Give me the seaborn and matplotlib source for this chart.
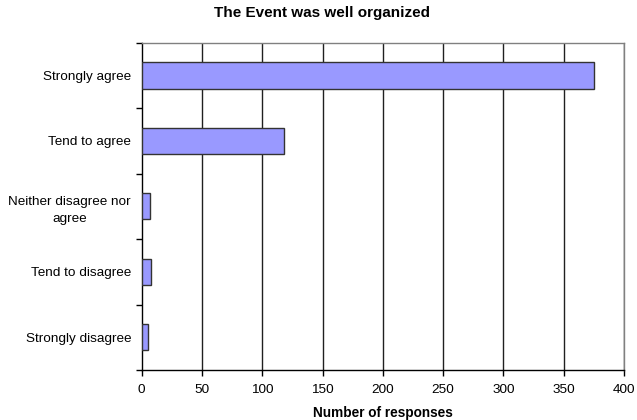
import matplotlib
matplotlib.use("Agg")
import matplotlib.pyplot as plt
import seaborn as sns
import pandas as pd

categories = ["Strongly agree", "Tend to agree", "Neither disagree nor\nagree",
              "Tend to disagree", "Strongly disagree"]
responses = [375, 118, 7, 8, 5]
x_ticks = [0, 50, 100, 150, 200, 250, 300, 350, 400]

sns.set_theme(style="white")
plt.rcParams['font.family'] = ['Liberation Sans', 'DejaVu Sans']
plt.rcParams['text.color'] = 'black'
plt.rcParams['axes.labelcolor'] = 'black'
plt.rcParams['xtick.color'] = 'black'
plt.rcParams['ytick.color'] = 'black'

df = pd.DataFrame({"category": categories, "responses": responses})

W, H = 637, 420
fig = plt.figure(figsize=(W / 100, H / 100), dpi=100)
ax = fig.add_axes([141.7 / W, 1 - 370 / H, (624 - 141.7) / W, (370 - 42.7) / H])

sns.barplot(data=df, x="responses", y="category", orient="h", ax=ax,
            color="#9999ff", saturation=1, width=0.4,
            edgecolor="#333333", linewidth=1.0, zorder=3)

ax.set_xlim(0, 400)
ax.set_ylim(4.5, -0.5)
ax.set_xticks(x_ticks)
ax.set_xticklabels([str(t) for t in x_ticks], fontsize=9.7)
ax.tick_params(axis="x", direction="out", length=4, width=1, color="black",
               pad=6, bottom=True)
# category labels
ax.set_yticks(range(len(categories)))
ax.set_yticklabels(categories, fontsize=9.7, ha="right")
for lab in ax.get_yticklabels():
    lab.set_multialignment("center")
    lab.set_linespacing(1.55)
ax.tick_params(axis="y", length=0, pad=7.7)
# y ticks at category boundaries
ax.set_yticks([b - 0.5 for b in range(len(categories) + 1)], minor=True)
ax.tick_params(axis="y", which="minor", direction="out", length=4, width=1,
               color="black", left=True)

for t in x_ticks[1:]:
    ax.axvline(t, color="#202020", linewidth=1, zorder=1)

for s in ["top", "right"]:
    ax.spines[s].set_color("#808080")
    ax.spines[s].set_linewidth(1)
for s in ["left", "bottom"]:
    ax.spines[s].set_color("black")
    ax.spines[s].set_linewidth(1)

ax.set_ylabel("")
ax.set_xlabel("Number of responses", fontsize=9.8, fontweight="bold", labelpad=7)
fig.text(322 / W, 1 - 13 / H, "The Event was well organized", ha="center",
         va="center", fontsize=11, fontweight="bold")

fig.savefig("out.png", dpi=100)
